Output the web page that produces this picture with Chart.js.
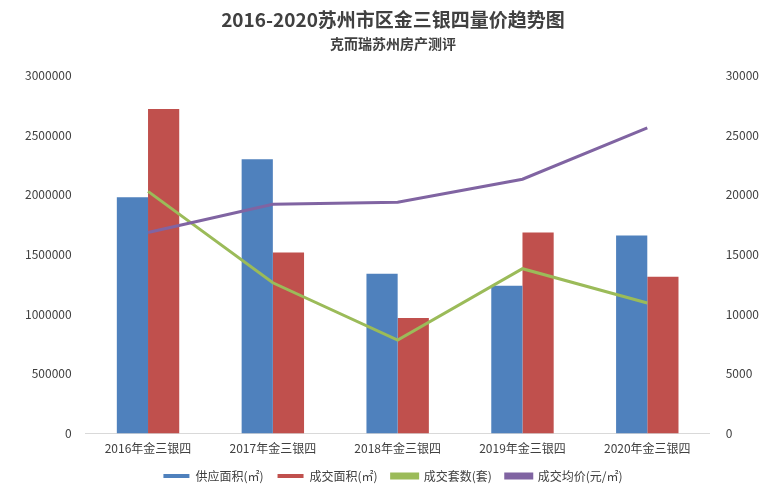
<!DOCTYPE html>
<html><head><meta charset="utf-8">
<script src="https://cdn.jsdelivr.net/npm/chart.js@4"></script>
<style>html,body{margin:0;padding:0;background:#fff;}#w{width:771px;height:492px;position:relative;}</style>
</head><body><div id="w"><canvas id="c"></canvas></div>
<script>
const categories=["2016年金三银四","2017年金三银四","2018年金三银四","2019年金三银四","2020年金三银四"];
const supplyArea=[1980000,2300000,1340000,1240000,1660000];
const dealArea=[2720000,1517000,969000,1685000,1315000];
const dealUnits=[20300,12640,7840,13820,10950];
const avgPrice=[16850,19210,19380,21320,25620];
const F="'Noto Sans CJK SC','Noto Sans',sans-serif";
new Chart(document.getElementById('c'),{
 data:{labels:categories,datasets:[
  {type:'line',label:'成交套数(套)',data:dealUnits,yAxisID:'y1',borderColor:'#9BBB59',backgroundColor:'#9BBB59',borderWidth:3,pointRadius:0,order:1},
  {type:'line',label:'成交均价(元/㎡)',data:avgPrice,yAxisID:'y1',borderColor:'#8064A2',backgroundColor:'#8064A2',borderWidth:3,pointRadius:0,order:0},
  {type:'bar',label:'供应面积(㎡)',data:supplyArea,yAxisID:'y',backgroundColor:'#4F81BD',barPercentage:1,categoryPercentage:0.5,order:2},
  {type:'bar',label:'成交面积(㎡)',data:dealArea,yAxisID:'y',backgroundColor:'#C0504D',barPercentage:1,categoryPercentage:0.5,order:2}
 ]},
 options:{responsive:true,maintainAspectRatio:false,animation:false,
  layout:{padding:{left:19,right:4,top:6,bottom:0}},
  plugins:{
   title:{display:true,text:'2016-2020苏州市区金三银四量价趋势图',font:{family:F,size:19,weight:'bold'},color:'#404040',padding:{top:2,bottom:0}},
   subtitle:{display:true,text:'克而瑞苏州房产测评',font:{family:F,size:14,weight:'bold'},color:'#404040',padding:{top:4,bottom:24}},
   legend:{position:'bottom',labels:{font:{family:F,size:12},color:'#404040',boxWidth:26,boxHeight:4,padding:14,
     sort:(a,b)=>[2,3,0,1].indexOf(a.datasetIndex)-[2,3,0,1].indexOf(b.datasetIndex)}}
  },
  scales:{
   x:{grid:{display:false},border:{color:'#d9d9d9'},ticks:{font:{family:F,size:12},color:'#404040',padding:0}},
   y:{position:'left',min:0,max:3000000,grid:{display:false},border:{display:false},ticks:{stepSize:500000,font:{family:F,size:12},color:'#404040',padding:6,callback:v=>String(v)}},
   y1:{position:'right',min:0,max:30000,grid:{display:false},border:{display:false},ticks:{stepSize:5000,font:{family:F,size:12},color:'#404040',padding:8,callback:v=>String(v)}}
  }
 }
});
</script></body></html>
